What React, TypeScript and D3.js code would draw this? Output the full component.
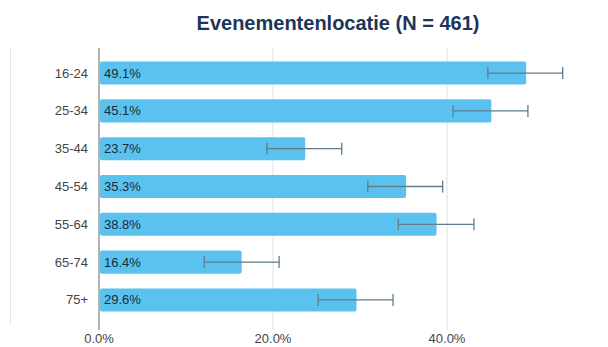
import React from "react";
import * as d3 from "d3";

const categories = ["16-24", "25-34", "35-44", "45-54", "55-64", "65-74", "75+"];
const values = [49.1, 45.1, 23.7, 35.3, 38.8, 16.4, 29.6];
const errLow = [44.7, 40.7, 19.3, 30.9, 34.4, 12.1, 25.2];
const errHigh = [53.3, 49.3, 27.9, 39.5, 43.1, 20.7, 33.8];
const xTicks = [0, 20, 40];
const title = "Evenementenlocatie (N = 461)";

export default function App() {
  const W = 608, H = 347;
  const x = d3.scaleLinear().domain([0, 40]).range([99, 447]);
  const y = d3.scaleBand().domain(categories).range([54, 319]).paddingInner(0.39).paddingOuter(0.2);
  const font = "Liberation Sans, Arial, sans-serif";
  return (
    <svg width={W} height={H} style={{ position: "absolute", left: 0, top: 0, background: "#fff" }}>
      <text x={338} y={30} textAnchor="middle" fontFamily={font} fontWeight="bold" fontSize={20} fill="#1d3557">{title}</text>
      <line x1={10.5} x2={10.5} y1={48} y2={325} stroke="#e2e2e2" />
      {xTicks.map((t) => (
        <g key={t}>
          <line x1={x(t)} x2={x(t)} y1={48} y2={330} stroke={t === 0 ? "#9a9a9a" : "#e0e0e0"} strokeWidth={t === 0 ? 1.5 : 1} />
          <text x={x(t)} y={343} textAnchor="middle" fontFamily={font} fontSize={13} fill="#444">{t.toFixed(1) + "%"}</text>
        </g>
      ))}
      {categories.map((c, i) => {
        const yy = y(c)!;
        const h = y.bandwidth();
        const cy = yy + h / 2;
        return (
          <g key={c}>
            <rect x={x(0) + 1} y={yy} width={x(values[i]) - x(0) - 1} height={h} rx={2} fill="#5bc2ef" />
            <text x={88} y={cy + 4.5} textAnchor="end" fontFamily={font} fontSize={13} fill="#444">{c}</text>
            <text x={104} y={cy + 4.5} fontFamily={font} fontSize={13} fill="#162c3d">{values[i].toFixed(1) + "%"}</text>
            <line x1={x(errLow[i])} x2={x(errHigh[i])} y1={cy} y2={cy} stroke="#5f7d8c" strokeWidth={1.3} />
            <line x1={x(errLow[i])} x2={x(errLow[i])} y1={cy - 6} y2={cy + 6} stroke="#5f7d8c" strokeWidth={1.3} />
            <line x1={x(errHigh[i])} x2={x(errHigh[i])} y1={cy - 6} y2={cy + 6} stroke="#5f7d8c" strokeWidth={1.3} />
          </g>
        );
      })}
    </svg>
  );
}
